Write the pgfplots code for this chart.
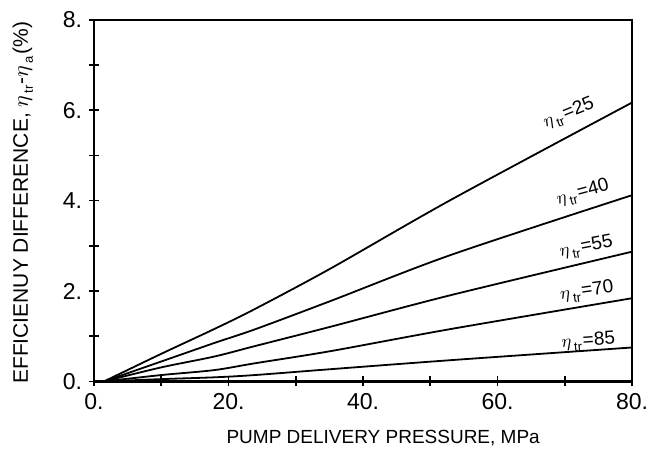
\documentclass[border=0pt]{standalone}
\usepackage{fontspec}
\setmainfont{Liberation Sans}
\usepackage{pgfplots}
\pgfplotsset{compat=1.18}
\newcommand\etasub[1]{$\eta$\kern1.2pt\raisebox{-0.45ex}{\fontsize{6.5}{7}\selectfont #1}\kern0.6pt}
\begin{document}
\begin{tikzpicture}
\begin{axis}[
  scale only axis, width=269pt, height=180.75pt,
  xmin=0, xmax=80, ymin=0, ymax=8,
  axis line style={line width=1.2pt},
  xtick={0,20,40,60,80}, xticklabels={0.,20.,40.,60.,80.},
  minor xtick={10,30,50,70},
  ytick={0,2,4,6,8}, yticklabels={0.,2.,4.,6.,8.},
  minor ytick={1,3,5,7},
  tick align=center, tick pos=left,
  major tick length=5pt, minor tick length=5pt,
  tick style={black, line width=0.8pt},
  ticklabel style={font=\fontsize{11.5}{12}\selectfont},
  clip=false,
]
\addplot[black, line width=0.9pt, smooth] coordinates {
  (1.5,0) (10,0.61) (17.9,1.16) (23.9,1.6) (35.2,2.5) (53.1,4.02) (80,6.17)};
\addplot[black, line width=0.9pt, smooth] coordinates {
  (1.5,0) (10,0.44) (17.9,0.85) (23.9,1.15) (35.2,1.78) (53.1,2.80) (80,4.12)};
\addplot[black, line width=0.9pt, smooth] coordinates {
  (1.5,0) (10,0.31) (17.9,0.55) (23.9,0.78) (35.2,1.21) (53.1,1.91) (80,2.87)};
\addplot[black, line width=0.9pt, smooth] coordinates {
  (1.5,0) (10,0.14) (17.9,0.25) (23.9,0.40) (35.2,0.67) (53.1,1.16) (80,1.84)};
\addplot[black, line width=0.9pt, smooth] coordinates {
  (1.5,0) (10,0.05) (17.9,0.09) (23.9,0.14) (35.2,0.27) (53.1,0.47) (80,0.75)};
% curve labels
\node[rotate=22, font=\fontsize{9.5}{10}\selectfont] at (axis cs:70.6,5.92) {\etasub{tr}=25};
\node[rotate=15, font=\fontsize{9.5}{10}\selectfont] at (axis cs:72.7,4.17) {\etasub{tr}=40};
\node[rotate=11, font=\fontsize{9.5}{10}\selectfont] at (axis cs:73.2,2.96) {\etasub{tr}=55};
\node[rotate=8, font=\fontsize{9.5}{10}\selectfont] at (axis cs:73.3,1.98) {\etasub{tr}=70};
\node[rotate=4, font=\fontsize{9.5}{10}\selectfont] at (axis cs:73.5,0.88) {\etasub{tr}=85};
% axis labels
\node[rotate=90, font=\fontsize{10.5}{12}\selectfont] at (axis cs:-10.6,3.95)
  {EFFICIENUY DIFFERENCE, \etasub{tr}-\etasub{a}(\%)};
\node[font=\fontsize{9.5}{11}\selectfont] at (axis cs:43,-1.25) {PUMP DELIVERY PRESSURE, MPa};
% picture frame
\path (axis cs:-13.98,-1.65) rectangle (axis cs:83.42,8.44);
\end{axis}
\end{tikzpicture}
\end{document}
